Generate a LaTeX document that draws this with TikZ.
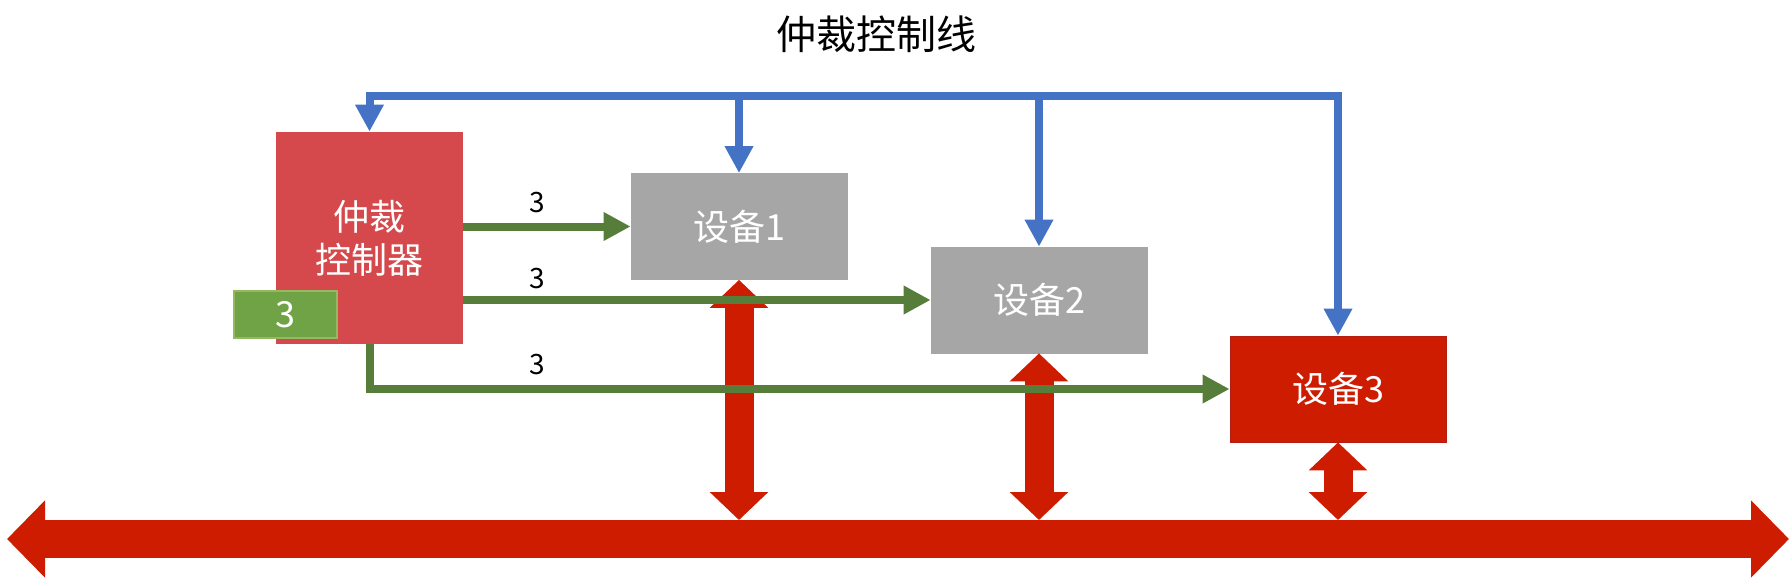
\documentclass[tikz,border=0pt]{standalone}
\usepackage{fontspec}
\setmainfont{Noto Sans CJK SC}
\usetikzlibrary{arrows.meta}
\usetikzlibrary{positioning}

\definecolor{arbred}{RGB}{213,72,76}
\definecolor{busred}{RGB}{206,28,0}
\definecolor{busedge}{RGB}{178,30,20}
\definecolor{devgray}{RGB}{166,166,166}
\definecolor{ctlblue}{RGB}{68,114,196}
\definecolor{reqgreen}{RGB}{86,126,58}
\definecolor{cntgreen}{RGB}{112,163,70}
\definecolor{cntedge}{RGB}{150,185,95}

\begin{document}
\begin{tikzpicture}[x=0.5pt, y=-0.5pt,
  dev/.style 2 args={
    rectangle,
    fill=#1,
    draw=#2,
    line width=0.4pt,
    text=white,
    inner sep=0pt,
    minimum width=108pt,
    minimum height=53pt,
    font=\fontsize{18pt}{21.5pt}\selectfont},
  lbl/.style={font=\fontsize{14pt}{16pt}\selectfont},
  ctlarrow/.style={ctlblue, line width=4pt},
  reqarrow/.style={reqgreen, line width=4pt,
    -{Triangle[width=13.5pt,length=13.5pt]}},
  buslink/.style={busred, line width=14.5pt,
    {Triangle[width=28.5pt,length=14pt]}-{Triangle[width=28.5pt,length=14pt]}}]
  \useasboundingbox (0,0) rectangle (1792,585);
  % draw title
  \node[font=\fontsize{20pt}{24pt}\selectfont] (title) at (876,34) {仲裁控制线};
  % draw arbiter and its counter
  \node[rectangle, fill=arbred, text=white, align=center, inner sep=0pt,
    minimum width=93.5pt, minimum height=106pt,
    font=\fontsize{18pt}{21.5pt}\selectfont] (arb) at (369.5,238) {仲裁\\控制器};
  \node[rectangle, fill=cntgreen, draw=cntedge, line width=0.6pt, text=white,
    inner sep=0pt, minimum width=51.5pt, minimum height=23.5pt,
    font=\fontsize{18pt}{21.5pt}\selectfont] (cnt) at (285.5,314.5) {3};
  % draw devices
  \foreach \i/\x/\y/\c/\e in {1/739/226.5/devgray/devgray,
                              2/1039/300/devgray/devgray,
                              3/1338/389/busred/busedge}
    \node[dev={\c}{\e}] (dev\i) at (\x,\y) {设备\i};
  % draw bus
  \coordinate (busl) at (7,539);
  \coordinate (busr) at (1789,539);
  \coordinate (bustop) at (0,520);
  \draw[busred, line width=19pt,
    {Triangle[width=37.5pt,length=19pt]}-{Triangle[width=37.5pt,length=19pt]}]
    (busl) -- (busr);
  % draw links between devices and bus
  \foreach \i in {1,...,3}
    \draw[buslink] (dev\i.south) -- (dev\i.south |- bustop);
  % draw arbitration control line
  \coordinate (ctlline) at (0,96);
  \draw[ctlarrow, {Triangle[width=13.5pt,length=13.5pt]}-{Triangle[width=13.5pt,length=13.5pt]}]
    (arb.north) |- (dev3.north |- ctlline) -- (dev3.north);
  \foreach \i in {1,2}
    \draw[ctlarrow, -{Triangle[width=13.5pt,length=13.5pt]}]
      (dev\i.north |- ctlline) -- (dev\i.north);
  % draw request lines
  \draw[reqarrow] (arb.east |- dev1.west) -- (dev1.west);
  \draw[reqarrow] (arb.east |- dev2.west) -- (dev2.west);
  \draw[reqarrow] (arb.south) |- (dev3.west);
  \foreach \y [count=\step from 1] in {203,279,365}
    \node[lbl] (n\step) at (537,\y) {3};
\end{tikzpicture}
\end{document}
